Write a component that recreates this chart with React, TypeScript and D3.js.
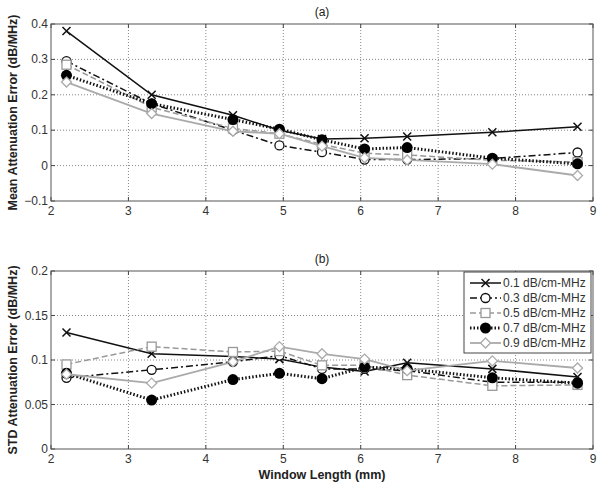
import React from 'react';
import * as d3 from 'd3';

const windowLengths = [2.2, 3.3, 4.35, 4.95, 5.5, 6.05, 6.6, 7.7, 8.8];
const seriesNames = ['0.1 dB/cm-MHz', '0.3 dB/cm-MHz', '0.5 dB/cm-MHz', '0.7 dB/cm-MHz', '0.9 dB/cm-MHz'];

// (a) mean attenuation error
const meanS1 = [0.38, 0.2, 0.142, 0.1, 0.075, 0.077, 0.082, 0.094, 0.11];
const meanS3 = [0.295, 0.175, 0.1, 0.057, 0.038, 0.017, 0.017, 0.02, 0.037];
const meanS5 = [0.285, 0.165, 0.105, 0.09, 0.06, 0.035, 0.03, 0.015, 0.01];
const meanS7 = [0.255, 0.175, 0.13, 0.103, 0.073, 0.047, 0.051, 0.021, 0.005];
const meanS9 = [0.236, 0.147, 0.097, 0.09, 0.055, 0.022, 0.016, 0.004, -0.028];

// (b) std of attenuation error
const stdS1 = [0.131, 0.107, 0.104, 0.101, 0.092, 0.087, 0.097, 0.09, 0.081];
const stdS3 = [0.08, 0.089, 0.098, 0.105, 0.09, 0.09, 0.088, 0.075, 0.075];
const stdS5 = [0.095, 0.115, 0.109, 0.11, 0.094, 0.094, 0.083, 0.071, 0.072];
const stdS7 = [0.085, 0.055, 0.078, 0.085, 0.079, 0.092, 0.09, 0.08, 0.074];
const stdS9 = [0.084, 0.074, 0.098, 0.115, 0.107, 0.101, 0.088, 0.099, 0.091];

const xTicks = [2, 3, 4, 5, 6, 7, 8, 9];
const meanTicks = [-0.1, 0, 0.1, 0.2, 0.3, 0.4];
const stdTicks = [0, 0.05, 0.1, 0.15, 0.2];

const styles = [
  { color: '#111', width: 1.5, dash: '', marker: 'x' },
  { color: '#111', width: 1.5, dash: '7,3,2,3', marker: 'circle' },
  { color: '#999', width: 1.5, dash: '6,3', marker: 'square' },
  { color: '#111', width: 3, dash: '1.5,2', marker: 'dot' },
  { color: '#aaa', width: 1.8, dash: '', marker: 'diamond' },
];

const font = 'Liberation Sans, Arial, sans-serif';
const left = 51, right = 593;

function Marker({ type, x, y, color }: { type: string; x: number; y: number; color: string }) {
  if (type === 'x') {
    const s = 4;
    return <path d={`M${x - s},${y - s}L${x + s},${y + s}M${x - s},${y + s}L${x + s},${y - s}`} stroke={color} strokeWidth={1.5} />;
  }
  if (type === 'circle') return <circle cx={x} cy={y} r={4.5} fill="#fff" stroke={color} strokeWidth={1.3} />;
  if (type === 'square') return <rect x={x - 4.5} y={y - 4.5} width={9} height={9} fill="#fff" stroke={color} strokeWidth={1.3} />;
  if (type === 'dot') return <circle cx={x} cy={y} r={5.5} fill="#000" />;
  const s = 5;
  return <path d={`M${x},${y - s}L${x + s},${y}L${x},${y + s}L${x - s},${y}Z`} fill="#fff" stroke={color} strokeWidth={1.3} />;
}

function Panel({ top, bottom, domain, ticks, series, title, ylabel, fmt }: any) {
  const x = d3.scaleLinear().domain([2, 9]).range([left, right]);
  const y = d3.scaleLinear().domain(domain).range([bottom, top]);
  const line = d3.line<number>().x((d, i) => x(windowLengths[i])).y(d => y(d));
  return (
    <g>
      <rect x={left} y={top} width={right - left} height={bottom - top} fill="#fff" />
      {xTicks.slice(1, -1).map(t => (
        <line key={'gx' + t} x1={x(t)} x2={x(t)} y1={top} y2={bottom} stroke="#888" strokeDasharray="1,2" />
      ))}
      {ticks.slice(1, -1).map((t: number) => (
        <line key={'gy' + t} x1={left} x2={right} y1={y(t)} y2={y(t)} stroke="#888" strokeDasharray="1,2" />
      ))}
      {xTicks.map(t => (
        <g key={'tx' + t}>
          <line x1={x(t)} x2={x(t)} y1={bottom} y2={bottom - 4} stroke="#444" />
          <line x1={x(t)} x2={x(t)} y1={top} y2={top + 4} stroke="#444" />
          <text x={x(t)} y={bottom + 14} textAnchor="middle" fontSize={12} fill="#333">{t}</text>
        </g>
      ))}
      {ticks.map((t: number) => (
        <g key={'ty' + t}>
          <line x1={left} x2={left + 4} y1={y(t)} y2={y(t)} stroke="#444" />
          <line x1={right} x2={right - 4} y1={y(t)} y2={y(t)} stroke="#444" />
          <text x={left - 3} y={y(t) + 4} textAnchor="end" fontSize={12} fill="#333">{fmt(t)}</text>
        </g>
      ))}
      {series.map((vals: number[], i: number) => (
        <path key={'l' + i} d={line(vals) || ''} fill="none" stroke={styles[i].color}
          strokeWidth={styles[i].width} strokeDasharray={styles[i].dash} />
      ))}
      {series.map((vals: number[], i: number) => vals.map((v, j) => (
        <Marker key={'m' + i + '-' + j} type={styles[i].marker} x={x(windowLengths[j])} y={y(v)} color={styles[i].color} />
      )))}
      <rect x={left} y={top} width={right - left} height={bottom - top} fill="none" stroke="#555" />
      <text x={322} y={top - 8} textAnchor="middle" fontSize={12} fill="#222">{title}</text>
      <text transform={`translate(17,${(top + bottom) / 2}) rotate(-90)`} textAnchor="middle" fontSize={12.5}
        fontWeight="bold" fill="#222">{ylabel}</text>
    </g>
  );
}

export default function App() {
  const fmtMean = (t: number) => d3.format('.1~f')(t);
  const fmtStd = (t: number) => d3.format('.2~f')(t);
  const legendY = d3.scaleLinear().domain([0, 4]).range([283, 343]);
  return (
    <svg width={601} height={486} style={{ position: 'absolute', left: 0, top: 0, fontFamily: font }}>
      <rect width={601} height={486} fill="#fff" />
      <Panel top={24} bottom={201} domain={[-0.1, 0.4]} ticks={meanTicks} fmt={fmtMean}
        series={[meanS1, meanS3, meanS5, meanS7, meanS9]} title="(a)" ylabel="Mean Attenuation Error (dB/MHz)" />
      <Panel top={271} bottom={449} domain={[0, 0.2]} ticks={stdTicks} fmt={fmtStd}
        series={[stdS1, stdS3, stdS5, stdS7, stdS9]} title="(b)" ylabel="STD Attenuation Error (dB/MHz)" />
      <text x={322} y={479} textAnchor="middle" fontSize={12.5} fontWeight="bold" fill="#222">Window Length (mm)</text>
      <g>
        <rect x={464} y={272} width={127} height={81} fill="#fff" stroke="#444" />
        {seriesNames.map((name, i) => (
          <g key={name}>
            <line x1={470} x2={501} y1={legendY(i)} y2={legendY(i)} stroke={styles[i].color}
              strokeWidth={styles[i].width} strokeDasharray={styles[i].dash} />
            <Marker type={styles[i].marker} x={485.5} y={legendY(i)} color={styles[i].color} />
            <text x={503} y={legendY(i) + 4} fontSize={12} fill="#333">{name}</text>
          </g>
        ))}
      </g>
    </svg>
  );
}
